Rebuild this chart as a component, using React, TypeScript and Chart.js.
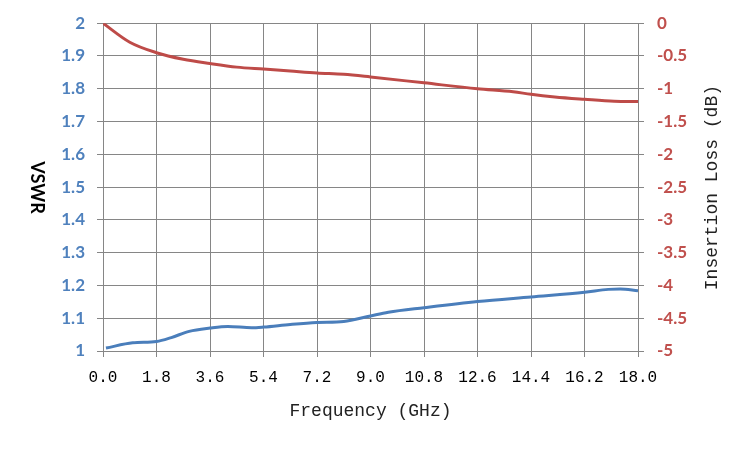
import { useEffect, useRef } from 'react';
import { Chart, registerables } from 'chart.js';

Chart.register(...registerables);

// VSWR readings (left axis)
const vswrFreq = [0.1, 1.0, 1.8, 2.3, 2.9, 3.6, 4.2, 5.0, 5.4, 6.3, 7.2, 8.1, 9.0, 9.6, 10.8, 12.6, 14.4, 16.2, 17.0, 17.4, 18.0];
const vswrValues = [1.009, 1.025, 1.029, 1.041, 1.06, 1.07, 1.075, 1.071, 1.073, 1.081, 1.087, 1.09, 1.107, 1.118, 1.132, 1.151, 1.165, 1.179, 1.188, 1.189, 1.184];

// Insertion loss readings (right axis)
const lossFreq = [0, 0.9, 1.8, 2.7, 3.6, 4.5, 5.4, 6.3, 7.2, 8.1, 9.0, 10.8, 12.6, 13.8, 14.4, 15.2, 16.2, 17.2, 18.0];
const lossValues = [0, -0.29, -0.45, -0.55, -0.615, -0.67, -0.7, -0.73, -0.76, -0.78, -0.82, -0.91, -1.0, -1.045, -1.085, -1.125, -1.16, -1.19, -1.195];

const xTitle = 'Frequency (GHz)';
const leftTitle = 'VSWR';
const rightTitle = 'Insertion Loss (dB)';

const blue = '#4A7EBB';
const red = '#BE4B48';
const gridColor = '#868686';
const monoFont = '"Liberation Mono", monospace';
const sansFont = 'Lato, "Liberation Sans", sans-serif';

const axisTitles = {
  id: 'axisTitles',
  afterDraw(chart: Chart) {
    const { ctx, chartArea } = chart;
    const midY = (chartArea.top + chartArea.bottom) / 2 + 0.5;
    ctx.save();
    ctx.fillStyle = '#000';
    ctx.textAlign = 'center';
    ctx.textBaseline = 'middle';

    ctx.font = 'bold 18px ' + sansFont;
    ctx.save();
    ctx.translate(37, midY);
    ctx.rotate(Math.PI / 2);
    ctx.fillText(leftTitle, 0, 0);
    ctx.restore();

    ctx.fillStyle = '#222';
    ctx.font = '18px ' + monoFont;
    ctx.save();
    ctx.translate(712, midY);
    ctx.rotate(-Math.PI / 2);
    ctx.fillText(rightTitle, 0, 0);
    ctx.restore();

    ctx.fillText(xTitle, (chartArea.left + chartArea.right) / 2, 411);
    ctx.restore();
  },
};

export default function App() {
  const canvasRef = useRef<HTMLCanvasElement>(null);
  const chartRef = useRef<Chart | null>(null);

  useEffect(() => {
    if (!canvasRef.current) return;
    chartRef.current?.destroy();

    chartRef.current = new Chart(canvasRef.current, {
      type: 'line',
      data: {
        datasets: [
          {
            label: 'VSWR',
            data: vswrFreq.map((f, i) => ({ x: f, y: vswrValues[i] })),
            borderColor: blue,
            borderWidth: 3,
            pointRadius: 0,
            cubicInterpolationMode: 'monotone',
            yAxisID: 'y',
          },
          {
            label: 'Insertion Loss',
            data: lossFreq.map((f, i) => ({ x: f, y: lossValues[i] })),
            borderColor: red,
            borderWidth: 3,
            pointRadius: 0,
            cubicInterpolationMode: 'monotone',
            yAxisID: 'y1',
          },
        ],
      },
      options: {
        responsive: false,
        animation: false,
        layout: { padding: { top: 23, left: 0, right: 0, bottom: 0 } },
        plugins: {
          legend: { display: false },
          tooltip: { enabled: false },
        },
        scales: {
          x: {
            type: 'linear',
            min: 0,
            max: 18,
            afterFit: (scale) => {
              scale.height = 99;
            },
            afterBuildTicks: (scale) => {
              scale.ticks = Array.from({ length: 11 }, (_, i) => ({ value: i * 1.8 }));
            },
            grid: { color: gridColor, tickLength: 6 },
            border: { color: gridColor },
            ticks: {
              color: '#000',
              padding: 11,
              maxRotation: 0,
              font: { family: monoFont, size: 16 },
              callback: (v) => Number(v).toFixed(1),
            },
          },
          y: {
            position: 'left',
            min: 1,
            max: 2,
            afterFit: (scale) => {
              scale.width = 103;
            },
            grid: { color: gridColor, tickLength: 6 },
            border: { color: gridColor },
            ticks: {
              stepSize: 0.1,
              color: '#4F81BD',
              padding: 12,
              font: { family: sansFont, size: 17, weight: 'bold' },
              callback: (v) => String(Math.round(Number(v) * 10) / 10),
            },
          },
          y1: {
            position: 'right',
            min: -5,
            max: 0,
            afterFit: (scale) => {
              scale.width = 112;
            },
            grid: { drawOnChartArea: false, color: gridColor, tickLength: 6 },
            border: { color: gridColor },
            ticks: {
              stepSize: 0.5,
              color: '#C0504D',
              padding: 13,
              font: { family: sansFont, size: 17, weight: 'bold' },
              callback: (v) => String(Math.round(Number(v) * 10) / 10),
            },
          },
        },
      },
      plugins: [axisTitles],
    });

    return () => {
      chartRef.current?.destroy();
      chartRef.current = null;
    };
  }, []);

  return (
    <div style={{ position: 'absolute', left: 0, top: 0, width: 750, height: 450, background: '#fff' }}>
      <canvas ref={canvasRef} width={750} height={450} />
    </div>
  );
}
